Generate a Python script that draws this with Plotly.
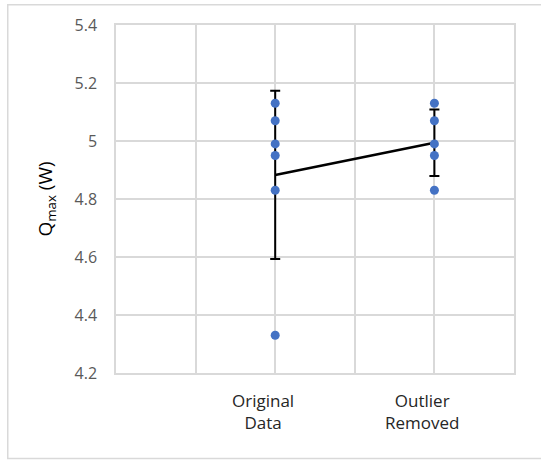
import plotly.graph_objects as go

# Data
original = [5.13, 5.07, 4.99, 4.95, 4.83, 4.33]
outlier_removed = [5.13, 5.07, 4.99, 4.95, 4.83]
group_x = [2, 4]
group_labels = ["Original<br>Data", "Outlier<br>Removed"]
means = [4.883, 4.994]
sds = [0.29, 0.115]
y_ticks = [4.2, 4.4, 4.6, 4.8, 5.0, 5.2, 5.4]
y_tick_text = ["4.2", "4.4", "4.6", "4.8", "5", "5.2", "5.4"]

BLUE = "#4472C4"
GRID = "#d9d9d9"
FONT = "Open Sans"

fig = go.Figure()

# Mean line with SD error bars
fig.add_trace(go.Scatter(
    x=group_x, y=means, mode="lines",
    line=dict(color="black", width=2.5),
    error_y=dict(type="data", array=sds, visible=True, color="black",
                 thickness=2, width=5),
    showlegend=False, hoverinfo="skip",
))

# Individual data points
fig.add_trace(go.Scatter(
    x=[group_x[0]] * len(original), y=original, mode="markers",
    marker=dict(color=BLUE, size=9), showlegend=False,
))
fig.add_trace(go.Scatter(
    x=[group_x[1]] * len(outlier_removed), y=outlier_removed, mode="markers",
    marker=dict(color=BLUE, size=9), showlegend=False,
))

# Category labels below the axis
for gx, lab in zip(group_x, group_labels):
    fig.add_annotation(
        x=gx - 0.15, xref="x", y=-0.04, yref="paper",
        text=lab, showarrow=False, yanchor="top",
        font=dict(family=FONT, size=17, color="#262626"),
    )

# Outer frame
fig.add_shape(type="rect", xref="paper", yref="paper",
              x0=-0.272, x1=1.1, y0=-0.246, y1=1.058,
              line=dict(color="#d9d9d9", width=1.5), fillcolor="rgba(0,0,0,0)")

fig.update_layout(
    width=541, height=462,
    margin=dict(l=116, r=27, t=25, b=89),
    paper_bgcolor="white", plot_bgcolor="white",
    font=dict(family=FONT),
    xaxis=dict(range=[0, 5], tickvals=[0, 1, 2, 3, 4, 5], showticklabels=False,
               showgrid=True, gridcolor=GRID, gridwidth=1.5, zeroline=False,
               showline=True, mirror=True, linecolor=GRID, linewidth=1.5,
               fixedrange=True),
    yaxis=dict(range=[4.2, 5.4], tickvals=y_ticks, ticktext=y_tick_text,
               showgrid=True, gridcolor=GRID, gridwidth=1.5, zeroline=False,
               showline=True, mirror=True, linecolor=GRID, linewidth=1.5,
               tickfont=dict(family=FONT, size=16, color="#595959"),
               ticks="", ticklabelstandoff=14,
               title=dict(text="Q<sub>max</sub> (W)", standoff=17,
                          font=dict(family=FONT, size=19, color="black")),
               fixedrange=True),
)

fig.write_html("out.html")
